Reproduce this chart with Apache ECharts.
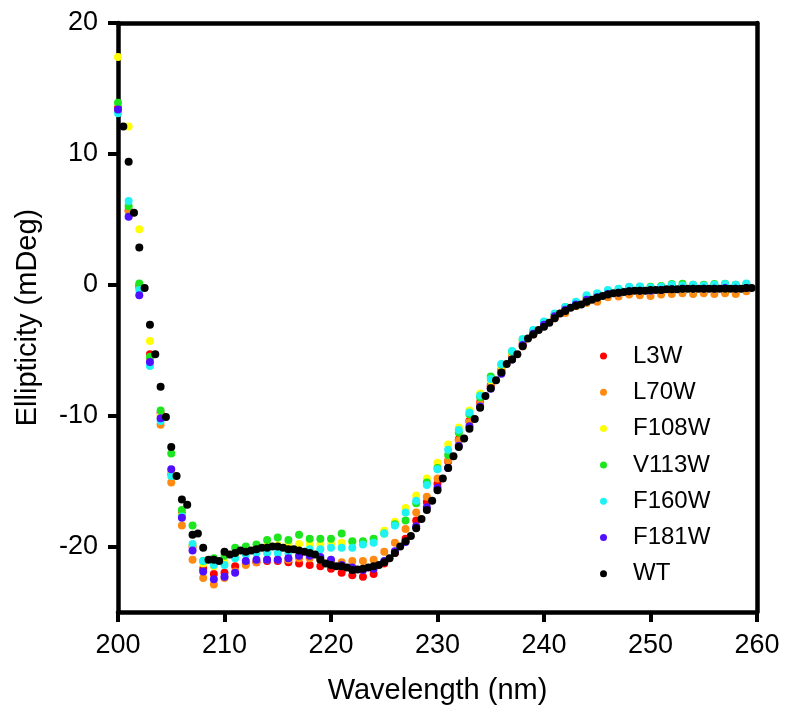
<!DOCTYPE html>
<html>
<head>
<meta charset="utf-8">
<script src="https://cdn.jsdelivr.net/npm/echarts@6/dist/echarts.min.js"></script>
<style>
  html, body { margin: 0; padding: 0; background: #fff; }
  #chart { width: 785px; height: 717px; }
</style>
</head>
<body>
<div id="chart"></div>
<script>
/** wavelengths (nm) for the mutants, 1 nm steps */
const wavelength = [
  200, 201, 202, 203, 204, 205, 206, 207, 208, 209,
  210, 211, 212, 213, 214, 215, 216, 217, 218, 219,
  220, 221, 222, 223, 224, 225, 226, 227, 228, 229,
  230, 231, 232, 233, 234, 235, 236, 237, 238, 239,
  240, 241, 242, 243, 244, 245, 246, 247, 248, 249,
  250, 251, 252, 253, 254, 255, 256, 257, 258, 259,
];

/** wavelengths (nm) for WT, 0.5 nm steps */
const wavelengthWT = [
  200.5, 201, 201.5, 202, 202.5, 203, 203.5, 204, 204.5, 205,
  205.5, 206, 206.5, 207, 207.5, 208, 208.5, 209, 209.5, 210,
  210.5, 211, 211.5, 212, 212.5, 213, 213.5, 214, 214.5, 215,
  215.5, 216, 216.5, 217, 217.5, 218, 218.5, 219, 219.5, 220,
  220.5, 221, 221.5, 222, 222.5, 223, 223.5, 224, 224.5, 225,
  225.5, 226, 226.5, 227, 227.5, 228, 228.5, 229, 229.5, 230,
  230.5, 231, 231.5, 232, 232.5, 233, 233.5, 234, 234.5, 235,
  235.5, 236, 236.5, 237, 237.5, 238, 238.5, 239, 239.5, 240,
  240.5, 241, 241.5, 242, 242.5, 243, 243.5, 244, 244.5, 245,
  245.5, 246, 246.5, 247, 247.5, 248, 248.5, 249, 249.5, 250,
  250.5, 251, 251.5, 252, 252.5, 253, 253.5, 254, 254.5, 255,
  255.5, 256, 256.5, 257, 257.5, 258, 258.5, 259, 259.5,
];

/** ellipticity (mDeg) per construct */
const l3w = [
  13.5, 5.7, -0.1, -5.3, -9.8, -14.4, -17.5, -20.0, -21.7, -22.1,
  -22.0, -21.5, -21.3, -21.2, -21.1, -21.1, -21.2, -21.3, -21.4, -21.5,
  -21.7, -22.0, -22.2, -22.3, -22.1, -21.3, -20.5, -19.4, -18.0, -16.6,
  -15.2, -13.5, -11.8, -10.4, -9.0, -7.7, -6.5, -5.5, -4.5, -3.7,
  -3.0, -2.45, -1.95, -1.5, -1.2, -1.0, -0.8, -0.7, -0.55, -0.5,
  -0.5, -0.45, -0.4, -0.4, -0.4, -0.35, -0.4, -0.35, -0.35, -0.3,
];
const l70w = [
  13.3, 5.6, -0.2, -5.6, -10.7, -15.1, -18.4, -21.0, -22.4, -22.9,
  -22.4, -21.9, -21.4, -21.2, -21.0, -21.0, -21.0, -20.9, -20.9, -21.0,
  -21.1, -21.2, -21.1, -21.1, -21.0, -20.4, -19.7, -18.65, -17.4, -16.2,
  -14.8, -13.4, -11.9, -10.5, -9.1, -7.8, -6.6, -5.5, -4.7, -3.8,
  -3.1, -2.55, -2.15, -1.65, -1.4, -1.3, -0.95, -0.9, -0.75, -0.8,
  -0.85, -0.75, -0.7, -0.65, -0.7, -0.65, -0.7, -0.65, -0.7, -0.5,
];
const f108w = [
  17.4, 12.1, 4.25, -4.3, -10.0, -14.3, -17.6, -19.9, -21.3, -21.5,
  -21.2, -20.6, -20.5, -20.2, -19.9, -19.9, -19.8, -19.8, -19.8, -19.8,
  -19.8, -19.7, -19.7, -19.7, -19.5, -18.8, -18.1, -17.05, -16.1, -14.8,
  -13.6, -12.2, -10.9, -9.6, -8.3, -7.3, -6.2, -5.2, -4.3, -3.6,
  -2.95, -2.35, -1.85, -1.45, -1.1, -0.9, -0.7, -0.6, -0.45, -0.45,
  -0.45, -0.4, -0.35, -0.35, -0.35, -0.3, -0.3, -0.3, -0.3, -0.25,
];
const v113w = [
  13.9, 6.0, 0.1, -5.5, -9.6, -12.9, -17.2, -18.4, -21.1, -20.9,
  -20.7, -20.1, -20.0, -19.85, -19.5, -19.3, -19.5, -19.1, -19.4, -19.4,
  -19.4, -19.0, -19.6, -19.6, -19.4, -19.0, -18.3, -18.0, -16.7, -15.1,
  -14.0, -13.0, -11.3, -9.9, -8.6, -7.0, -6.1, -5.1, -4.2, -3.5,
  -2.85, -2.25, -1.7, -1.35, -0.9, -0.7, -0.45, -0.35, -0.2, -0.15,
  -0.15, -0.1, 0.05, 0.08, 0.0, 0.0, 0.05, 0.08, 0.0, 0.05,
];
const f160w = [
  13.1, 6.4, -0.4, -6.2, -10.4, -14.6, -17.7, -19.8, -21.1, -21.4,
  -21.4, -20.9, -20.6, -20.5, -20.5, -20.5, -20.5, -20.4, -20.2, -20.2,
  -20.1, -20.1, -20.1, -19.85, -19.7, -19.0, -18.4, -17.4, -16.5, -15.3,
  -14.1, -12.6, -11.1, -9.75, -8.45, -7.2, -6.05, -5.05, -4.15, -3.45,
  -2.8, -2.2, -1.7, -1.3, -0.8, -0.65, -0.4, -0.3, -0.15, -0.13,
  -0.2, -0.15, 0.0, -0.05, 0.0, -0.05, 0.0, 0.05, 0.0, 0.1,
];
const f181w = [
  13.4, 5.2, -0.8, -5.9, -10.2, -14.1, -17.8, -20.3, -21.9, -22.5,
  -22.3, -22.0, -21.1, -21.0, -21.0, -21.0, -20.9, -20.7, -20.7, -20.8,
  -21.0, -21.4, -21.6, -21.8, -21.7, -21.1, -20.35, -19.65, -18.45, -17.0,
  -15.5, -14.0, -12.3, -10.8, -9.3, -7.95, -6.8, -5.7, -4.6, -3.75,
  -3.05, -2.4, -1.9, -1.5, -1.15, -0.95, -0.7, -0.6, -0.5, -0.45,
  -0.45, -0.4, -0.35, -0.3, -0.3, -0.3, -0.3, -0.25, -0.3, -0.25,
];
const wt = [
  12.1, 9.4, 5.5, 2.85, -0.25, -3.05, -5.3, -7.8, -10.1, -12.4,
  -14.6, -16.4, -16.8, -19.1, -19.0, -20.1, -21.0, -21.0, -21.1, -20.4,
  -20.6, -20.5, -20.3, -20.4, -20.3, -20.2, -20.1, -20.1, -20.0, -20.0,
  -20.1, -20.2, -20.2, -20.3, -20.4, -20.5, -20.6, -21.0, -21.3, -21.4,
  -21.5, -21.5, -21.6, -21.8, -21.75, -21.7, -21.6, -21.5, -21.4, -21.2,
  -20.9, -20.5, -20.0, -19.6, -19.2, -18.6, -17.9, -17.2, -16.5, -15.7,
  -14.8, -14.0, -13.1, -12.4, -11.75, -11.0, -10.25, -9.4, -8.5, -7.9,
  -7.3, -6.7, -6.05, -5.7, -5.3, -4.7, -4.1, -3.8, -3.45, -3.2,
  -2.9, -2.55, -2.2, -2.0, -1.75, -1.6, -1.5, -1.3, -1.15, -1.0,
  -0.85, -0.75, -0.65, -0.6, -0.55, -0.5, -0.45, -0.45, -0.45, -0.4,
  -0.4, -0.4, -0.35, -0.35, -0.35, -0.3, -0.3, -0.3, -0.3, -0.3,
  -0.3, -0.3, -0.3, -0.3, -0.3, -0.3, -0.3, -0.25, -0.25,
];

/** series names, colours, values */
const names = ["L3W", "L70W", "F108W", "V113W", "F160W", "F181W", "WT"];
const colors = ["#ff0000", "#ff8a12", "#ffff00", "#1ee61e", "#1ef2f2", "#5010ff", "#000000"];
const values = [l3w, l70w, f108w, v113w, f160w, f181w, wt];

/** axis ranges (ticks every 10, y ticks land on multiples of 10 from -20) */
const xRange = [200, 260];
const yRange = [-25, 20];

const font = "'Liberation Sans', Arial, sans-serif";

const series = names.map((name, i) => {
  const xs = name === "WT" ? wavelengthWT : wavelength;
  return {
    name,
    type: "scatter",
    symbol: "circle",
    symbolSize: 8,
    itemStyle: { color: colors[i], opacity: 1 },
    data: xs.map((x, j) => [x, values[i][j]]),
  };
});

const axisLine = { onZero: false, lineStyle: { color: "#000", width: 4.5 } };
const tick = { show: true, length: 10, lineStyle: { color: "#000", width: 4 } };
const labelStyle = { color: "#000", fontSize: 27, fontFamily: font };
const nameStyle = { color: "#000", fontSize: 29, fontFamily: font };

const option = {
  animation: false,
  backgroundColor: "#fff",
  grid: { left: 118, right: 28, top: 23, bottom: 105 },
  legend: {
    orient: "vertical",
    left: 600,
    top: 344,
    padding: 0,
    itemGap: 12.3,
    itemWidth: 7,
    itemHeight: 7,
    icon: "circle",
    data: names,
    textStyle: {
      color: "#000",
      fontSize: 24,
      fontFamily: font,
      padding: [0, 0, 0, 21],
    },
  },
  xAxis: [
    {
      type: "value",
      position: "bottom",
      min: xRange[0],
      max: xRange[1],
      interval: 10,
      axisLine,
      axisTick: tick,
      splitLine: { show: false },
      axisLabel: { ...labelStyle, margin: 20 },
      name: "Wavelength (nm)",
      nameLocation: "middle",
      nameGap: 64,
      nameTextStyle: nameStyle,
    },
    {
      type: "value",
      position: "top",
      min: xRange[0],
      max: xRange[1],
      axisLine,
      axisTick: { show: false },
      axisLabel: { show: false },
      splitLine: { show: false },
    },
  ],
  yAxis: [
    {
      type: "value",
      position: "left",
      min: yRange[0],
      max: yRange[1],
      splitNumber: 5,
      axisLine,
      axisTick: tick,
      splitLine: { show: false },
      axisLabel: { ...labelStyle, margin: 20, showMinLabel: false },
      name: "Ellipticity (mDeg)",
      nameLocation: "middle",
      nameGap: 76,
      nameTextStyle: nameStyle,
    },
    {
      type: "value",
      position: "right",
      min: yRange[0],
      max: yRange[1],
      axisLine,
      axisTick: { show: false },
      axisLabel: { show: false },
      splitLine: { show: false },
    },
  ],
  series,
};

const chart = echarts.init(document.getElementById("chart"), null, { renderer: "canvas" });
chart.setOption(option);
</script>
</body>
</html>
